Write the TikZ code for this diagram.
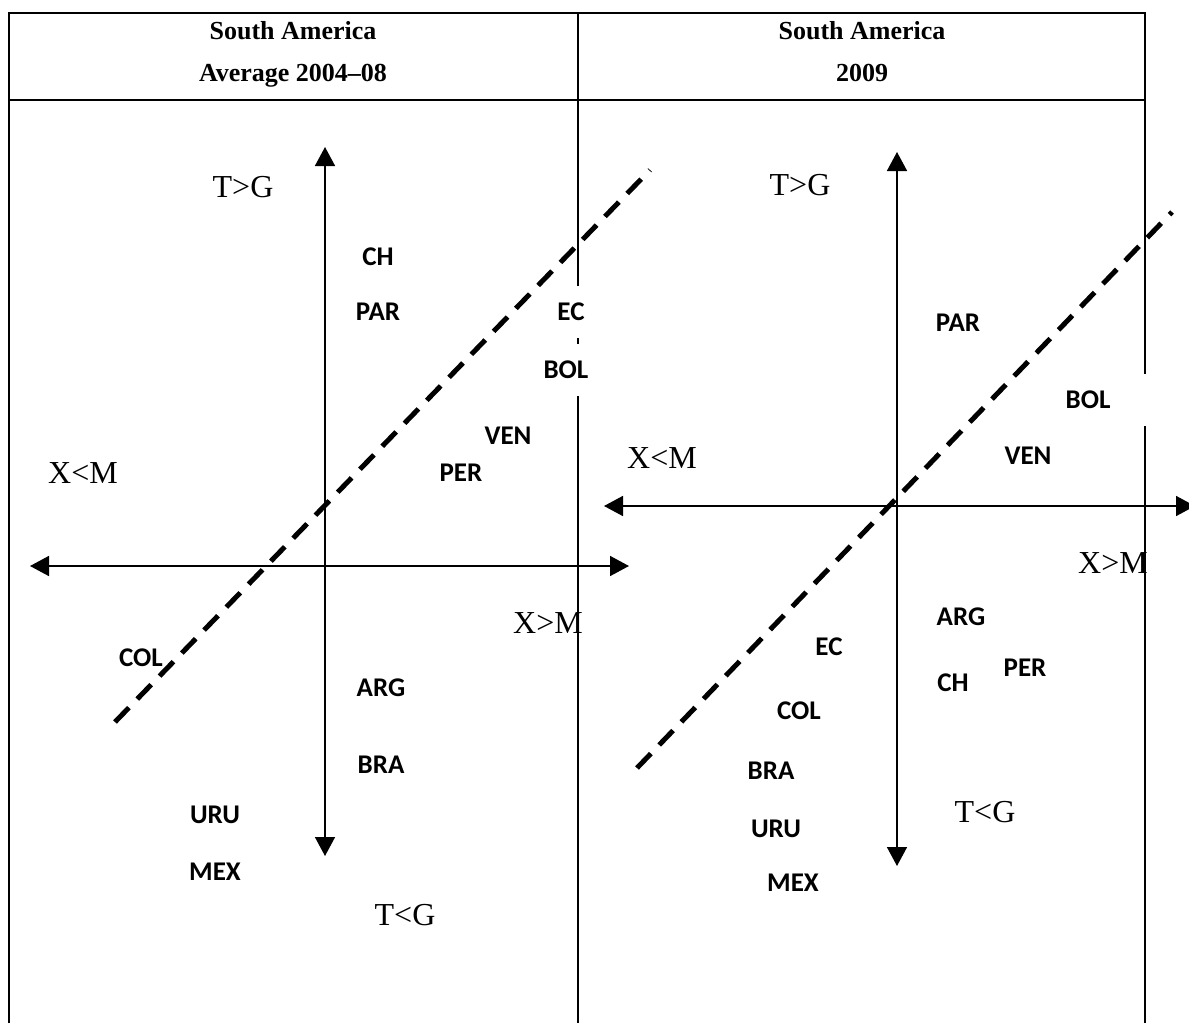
\documentclass[tikz,border=0pt]{standalone}
\usepackage{fontspec}
\setmainfont{Liberation Serif}
\newfontfamily\labfont{Carlito}
\usetikzlibrary{arrows.meta}
\begin{document}
\begin{tikzpicture}[x=1pt,y=-1pt,
  tbl/.style={line width=2pt},
  axis/.style={line width=1.6pt,{Triangle[length=19pt,width=20pt]}-{Triangle[length=19pt,width=20pt]}},
  divide/.style={line width=5pt,dash pattern=on 20pt off 12pt},
  head/.style={font=\bfseries\fontsize{26}{26}\selectfont,inner sep=0pt},
  quad/.style={font=\fontsize{32}{32}\selectfont,inner sep=0pt},
  ctry/.style={font=\labfont\bfseries\fontsize{27}{27}\selectfont,inner sep=1pt},
  cover/.style={ctry,fill=white,minimum height=52pt}
]
\useasboundingbox (0,0) rectangle (1189,1023);
% table
\draw[tbl] (9,1023) -- (9,13) -- (1145,13) -- (1145,1023);
\draw[tbl] (9,100) -- (1145,100);
\draw[tbl] (578,13) -- (578,1023);
\node[head,anchor=base] (h1a) at (293,39) {South America};
\node[head,anchor=base] (h1b) at (293,81) {Average 2004--08};
\node[head,anchor=base] (h2a) at (862,39) {South America};
\node[head,anchor=base] (h2b) at (862,81) {2009};

% ---------- left panel ----------
\coordinate (lU) at (325,147);
\coordinate (lD) at (325,856);
\coordinate (lL) at (30,566);
\coordinate (lR) at (629,566);
\draw[axis] (lL) -- (lR);
\draw[axis] (lD) -- (lU);
\node[quad] (lTG) at (243,187) {T>G};
\node[quad] (lTL) at (405,915) {T<G};
\node[quad] (lXL) at (83,473) {X<M};
\node[quad] (lXG) at (548,623) {X>M};
\node[ctry] (lCH) at (378,257) {CH};
\node[ctry] (lPAR) at (378,312) {PAR};
\node[cover] (lEC) at (571,312) {EC};
\node[cover] (lBOL) at (566,370) {BOL};
\node[ctry] (lVEN) at (508,436) {VEN};
\node[ctry] (lPER) at (461,473) {PER};
\node[ctry] (lCOL) at (141,658) {COL};
\node[ctry] (lARG) at (381,688) {ARG};
\node[ctry] (lBRA) at (381,765) {BRA};
\node[ctry] (lURU) at (215,815) {URU};
\node[ctry] (lMEX) at (215,872) {MEX};
\coordinate (lA) at (115,722);
\coordinate (lB) at (650,170);
\draw[divide] (lA) -- (lB);

% ---------- right panel ----------
\coordinate (rU) at (897,152);
\coordinate (rD) at (897,866);
\coordinate (rL) at (604,506);
\coordinate (rR) at (1195,506);
\node[cover,minimum width=130pt] (rBOL) at (1088,400) {BOL};
\draw[axis] (rL) -- (rR);
\draw[axis] (rD) -- (rU);
\node[quad] (rTG) at (800,185) {T>G};
\node[quad] (rTL) at (985,812) {T<G};
\node[quad] (rXL) at (662,458) {X<M};
\node[quad] (rXG) at (1113,563) {X>M};
\node[ctry] (rPAR) at (958,323) {PAR};
\node[ctry] (rVEN) at (1028,456) {VEN};
\node[ctry] (rARG) at (961,617) {ARG};
\node[ctry] (rEC) at (829,647) {EC};
\node[ctry] (rPER) at (1025,668) {PER};
\node[ctry] (rCH) at (953,683) {CH};
\node[ctry] (rCOL) at (799,711) {COL};
\node[ctry] (rBRA) at (771,771) {BRA};
\node[ctry] (rURU) at (776,829) {URU};
\node[ctry] (rMEX) at (793,883) {MEX};
\coordinate (rA) at (637,768);
\coordinate (rB) at (1172,212);
\draw[divide] (rA) -- (rB);
\end{tikzpicture}
\end{document}
